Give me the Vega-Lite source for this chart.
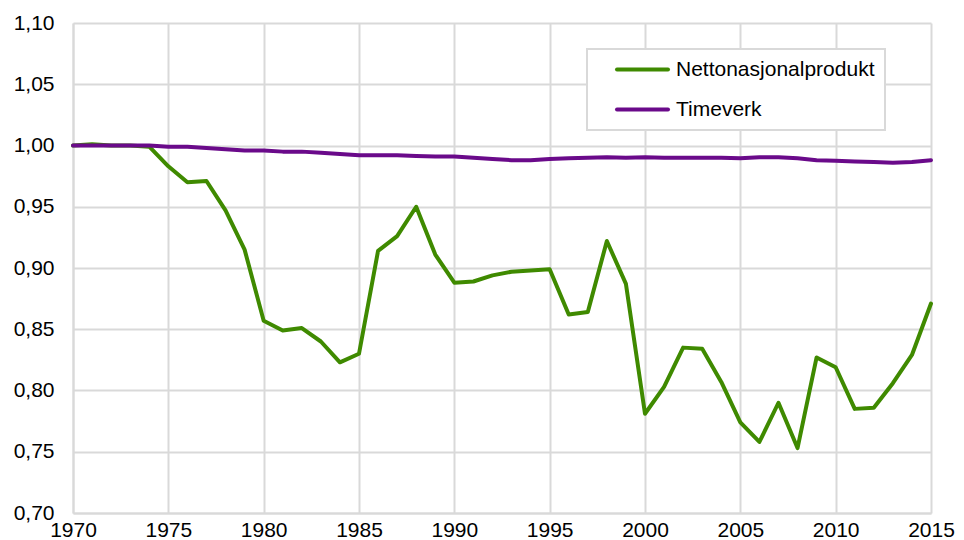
{
  "$schema": "https://vega.github.io/schema/vega-lite/v6.json",
  "width": 858,
  "height": 490,
  "autosize": {"type": "none"},
  "padding": {"left": 73, "top": 23, "right": 33, "bottom": 27},
  "background": "white",
  "config": {
    "view": {"stroke": null},
    "font": "Liberation Sans"
  },
  "data": {
    "values": [
      {"year": 1970, "serie": "Nettonasjonalprodukt", "v": 1.000},
      {"year": 1971, "serie": "Nettonasjonalprodukt", "v": 1.001},
      {"year": 1972, "serie": "Nettonasjonalprodukt", "v": 1.000},
      {"year": 1973, "serie": "Nettonasjonalprodukt", "v": 1.000},
      {"year": 1974, "serie": "Nettonasjonalprodukt", "v": 0.999},
      {"year": 1975, "serie": "Nettonasjonalprodukt", "v": 0.983},
      {"year": 1976, "serie": "Nettonasjonalprodukt", "v": 0.970},
      {"year": 1977, "serie": "Nettonasjonalprodukt", "v": 0.971},
      {"year": 1978, "serie": "Nettonasjonalprodukt", "v": 0.947},
      {"year": 1979, "serie": "Nettonasjonalprodukt", "v": 0.915},
      {"year": 1980, "serie": "Nettonasjonalprodukt", "v": 0.857},
      {"year": 1981, "serie": "Nettonasjonalprodukt", "v": 0.849},
      {"year": 1982, "serie": "Nettonasjonalprodukt", "v": 0.851},
      {"year": 1983, "serie": "Nettonasjonalprodukt", "v": 0.840},
      {"year": 1984, "serie": "Nettonasjonalprodukt", "v": 0.823},
      {"year": 1985, "serie": "Nettonasjonalprodukt", "v": 0.830},
      {"year": 1986, "serie": "Nettonasjonalprodukt", "v": 0.914},
      {"year": 1987, "serie": "Nettonasjonalprodukt", "v": 0.926},
      {"year": 1988, "serie": "Nettonasjonalprodukt", "v": 0.950},
      {"year": 1989, "serie": "Nettonasjonalprodukt", "v": 0.911},
      {"year": 1990, "serie": "Nettonasjonalprodukt", "v": 0.888},
      {"year": 1991, "serie": "Nettonasjonalprodukt", "v": 0.889},
      {"year": 1992, "serie": "Nettonasjonalprodukt", "v": 0.894},
      {"year": 1993, "serie": "Nettonasjonalprodukt", "v": 0.897},
      {"year": 1994, "serie": "Nettonasjonalprodukt", "v": 0.898},
      {"year": 1995, "serie": "Nettonasjonalprodukt", "v": 0.899},
      {"year": 1996, "serie": "Nettonasjonalprodukt", "v": 0.862},
      {"year": 1997, "serie": "Nettonasjonalprodukt", "v": 0.864},
      {"year": 1998, "serie": "Nettonasjonalprodukt", "v": 0.922},
      {"year": 1999, "serie": "Nettonasjonalprodukt", "v": 0.887},
      {"year": 2000, "serie": "Nettonasjonalprodukt", "v": 0.781},
      {"year": 2001, "serie": "Nettonasjonalprodukt", "v": 0.803},
      {"year": 2002, "serie": "Nettonasjonalprodukt", "v": 0.835},
      {"year": 2003, "serie": "Nettonasjonalprodukt", "v": 0.834},
      {"year": 2004, "serie": "Nettonasjonalprodukt", "v": 0.807},
      {"year": 2005, "serie": "Nettonasjonalprodukt", "v": 0.774},
      {"year": 2006, "serie": "Nettonasjonalprodukt", "v": 0.758},
      {"year": 2007, "serie": "Nettonasjonalprodukt", "v": 0.790},
      {"year": 2008, "serie": "Nettonasjonalprodukt", "v": 0.753},
      {"year": 2009, "serie": "Nettonasjonalprodukt", "v": 0.827},
      {"year": 2010, "serie": "Nettonasjonalprodukt", "v": 0.819},
      {"year": 2011, "serie": "Nettonasjonalprodukt", "v": 0.785},
      {"year": 2012, "serie": "Nettonasjonalprodukt", "v": 0.786},
      {"year": 2013, "serie": "Nettonasjonalprodukt", "v": 0.806},
      {"year": 2014, "serie": "Nettonasjonalprodukt", "v": 0.829},
      {"year": 2015, "serie": "Nettonasjonalprodukt", "v": 0.871},
      {"year": 1970, "serie": "Timeverk", "v": 1.000},
      {"year": 1971, "serie": "Timeverk", "v": 1.000},
      {"year": 1972, "serie": "Timeverk", "v": 1.000},
      {"year": 1973, "serie": "Timeverk", "v": 1.000},
      {"year": 1974, "serie": "Timeverk", "v": 1.000},
      {"year": 1975, "serie": "Timeverk", "v": 0.999},
      {"year": 1976, "serie": "Timeverk", "v": 0.999},
      {"year": 1977, "serie": "Timeverk", "v": 0.998},
      {"year": 1978, "serie": "Timeverk", "v": 0.997},
      {"year": 1979, "serie": "Timeverk", "v": 0.996},
      {"year": 1980, "serie": "Timeverk", "v": 0.996},
      {"year": 1981, "serie": "Timeverk", "v": 0.995},
      {"year": 1982, "serie": "Timeverk", "v": 0.995},
      {"year": 1983, "serie": "Timeverk", "v": 0.994},
      {"year": 1984, "serie": "Timeverk", "v": 0.993},
      {"year": 1985, "serie": "Timeverk", "v": 0.992},
      {"year": 1986, "serie": "Timeverk", "v": 0.992},
      {"year": 1987, "serie": "Timeverk", "v": 0.992},
      {"year": 1988, "serie": "Timeverk", "v": 0.9915},
      {"year": 1989, "serie": "Timeverk", "v": 0.991},
      {"year": 1990, "serie": "Timeverk", "v": 0.991},
      {"year": 1991, "serie": "Timeverk", "v": 0.990},
      {"year": 1992, "serie": "Timeverk", "v": 0.989},
      {"year": 1993, "serie": "Timeverk", "v": 0.988},
      {"year": 1994, "serie": "Timeverk", "v": 0.988},
      {"year": 1995, "serie": "Timeverk", "v": 0.989},
      {"year": 1996, "serie": "Timeverk", "v": 0.9895},
      {"year": 1997, "serie": "Timeverk", "v": 0.990},
      {"year": 1998, "serie": "Timeverk", "v": 0.9905},
      {"year": 1999, "serie": "Timeverk", "v": 0.990},
      {"year": 2000, "serie": "Timeverk", "v": 0.9905},
      {"year": 2001, "serie": "Timeverk", "v": 0.990},
      {"year": 2002, "serie": "Timeverk", "v": 0.990},
      {"year": 2003, "serie": "Timeverk", "v": 0.990},
      {"year": 2004, "serie": "Timeverk", "v": 0.990},
      {"year": 2005, "serie": "Timeverk", "v": 0.9895},
      {"year": 2006, "serie": "Timeverk", "v": 0.9905},
      {"year": 2007, "serie": "Timeverk", "v": 0.9905},
      {"year": 2008, "serie": "Timeverk", "v": 0.9895},
      {"year": 2009, "serie": "Timeverk", "v": 0.988},
      {"year": 2010, "serie": "Timeverk", "v": 0.9875},
      {"year": 2011, "serie": "Timeverk", "v": 0.987},
      {"year": 2012, "serie": "Timeverk", "v": 0.9865},
      {"year": 2013, "serie": "Timeverk", "v": 0.986},
      {"year": 2014, "serie": "Timeverk", "v": 0.9865},
      {"year": 2015, "serie": "Timeverk", "v": 0.988}
    ]
  },
  "mark": {"type": "line", "strokeWidth": 4, "strokeJoin": "round", "strokeCap": "round", "clip": false},
  "encoding": {
    "x": {
      "field": "year",
      "type": "quantitative",
      "scale": {"domain": [1970, 2015], "nice": false, "zero": false},
      "axis": {
        "title": null,
        "values": [1970, 1975, 1980, 1985, 1990, 1995, 2000, 2005, 2010, 2015],
        "format": "d",
        "ticks": false,
        "tickSize": 0,
        "labelPadding": 6,
        "labelFontSize": 21,
        "labelColor": "#000000",
        "labelFont": "Liberation Sans",
        "grid": true,
        "gridColor": "#d9d9d9",
        "gridWidth": 2,
        "domainColor": "#d9d9d9",
        "domainWidth": 2,
        "labelFlush": false,
        "labelOverlap": false
      }
    },
    "y": {
      "field": "v",
      "type": "quantitative",
      "scale": {"domain": [0.7, 1.1], "nice": false, "zero": false},
      "axis": {
        "title": null,
        "values": [0.7, 0.75, 0.8, 0.85, 0.9, 0.95, 1.0, 1.05, 1.1],
        "labelExpr": "replace(format(datum.value, '.2f'), '.', ',')",
        "ticks": false,
        "tickSize": 0,
        "labelPadding": 19,
        "labelFontSize": 21,
        "labelColor": "#000000",
        "labelFont": "Liberation Sans",
        "grid": true,
        "gridColor": "#d9d9d9",
        "gridWidth": 2,
        "domainColor": "#d9d9d9",
        "domainWidth": 2,
        "labelOverlap": false
      }
    },
    "color": {
      "field": "serie",
      "type": "nominal",
      "scale": {"domain": ["Nettonasjonalprodukt", "Timeverk"], "range": ["#3f8a00", "#6a0a8a"]},
      "legend": {
        "title": null,
        "orient": "none",
        "legendX": 514,
        "legendY": 26,
        "direction": "vertical",
        "fillColor": "white",
        "strokeColor": "#d9d9d9",
        "padding": 10,
        "symbolType": "stroke",
        "symbolSize": 2601,
        "symbolStrokeWidth": 4,
        "symbolOffset": 18,
        "labelOffset": 6,
        "labelFontSize": 21,
        "labelFont": "Liberation Sans",
        "labelColor": "#000000",
        "labelLimit": 400,
        "clipHeight": 21,
        "rowPadding": 18,
        "encode": {
          "symbols": {"update": {"strokeCap": {"value": "round"}}},
          "legend": {"update": {"strokeWidth": {"value": 2}, "width": {"value": 296}}}
        }
      }
    }
  }
}
